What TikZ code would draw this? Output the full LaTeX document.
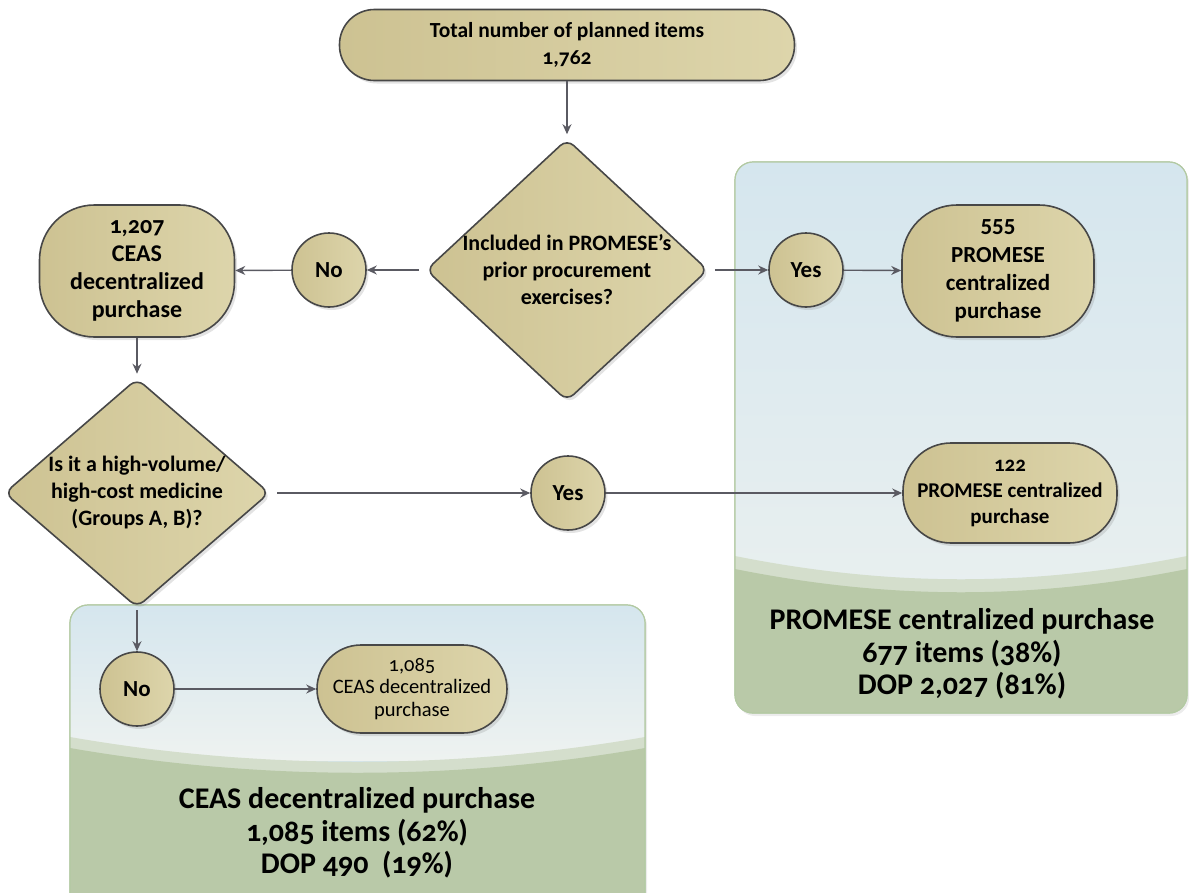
\documentclass[tikz,border=0pt]{standalone}
\usepackage{fontspec}
\setmainfont{Carlito}[Numbers=OldStyle]
\newfontfamily\liningfont{Carlito}[Numbers=Lining]
\usetikzlibrary{arrows.meta,shapes.geometric,shadows}
\definecolor{tanA}{HTML}{CDC292}
\definecolor{tanB}{HTML}{DDD5AB}
\definecolor{edgegray}{HTML}{474747}
\definecolor{arrowgray}{HTML}{5A5A62}
\definecolor{skyA}{HTML}{D5E6EE}
\definecolor{skyB}{HTML}{EEF2F0}
\definecolor{sageA}{HTML}{B9C9A8}
\definecolor{sageB}{HTML}{D4DECC}
\definecolor{paneledge}{HTML}{B3CAA3}

\tikzset{
	tanfill/.style={draw=edgegray, line width=1.6pt, left color=tanA, right color=tanB,
		drop shadow={shadow xshift=2.5pt, shadow yshift=-3pt, opacity=0.22}},
	termbox/.style={tanfill, rectangle, align=center, inner sep=0pt},
	answer/.style={tanfill, circle, minimum size=74pt, inner sep=0pt, font=\bfseries\fontsize{23}{27}\selectfont},
	decision/.style={tanfill, diamond, rounded corners=9pt, inner sep=0pt},
	flow/.style={draw=arrowgray, line width=1.4pt, -{Stealth[length=10pt,width=9pt]}},
	panelline/.style={draw=paneledge, line width=1.2pt, rounded corners=18pt,
		drop shadow={shadow xshift=2pt, shadow yshift=-3pt, opacity=0.15}},
}

\begin{document}
\begin{tikzpicture}[x=1pt, y=-1pt]
			%%%%% START %%%%%
			\clip (0,0) rectangle (1189,892);
			
			% right panel
			\draw[panelline, fill=skyA] (735,162) rectangle (1187,713);
			\begin{scope}
				\clip[rounded corners=18pt] (735,162) rectangle (1187,713);
				\fill[top color=skyA, bottom color=skyB] (735,162) rectangle (1187,713);
				\fill[sageB] (735,556) .. controls (890,587) and (1032,587) .. (1187,556) -- (1187,713) -- (735,713) -- cycle;
				\fill[sageA] (735,569) .. controls (890,600) and (1032,600) .. (1187,569) -- (1187,713) -- (735,713) -- cycle;
			\end{scope}
			\draw[draw=paneledge, line width=1.2pt, rounded corners=18pt] (735,162) rectangle (1187,713);
			
			% bottom panel
			\draw[panelline, fill=skyA] (70,605) rectangle (645,910);
			\begin{scope}
				\clip[rounded corners=18pt] (70,605) rectangle (645,910);
				\fill[top color=skyA, bottom color=skyB] (70,605) rectangle (645,760);
				\fill[sageB] (70,737) .. controls (260,770) and (455,770) .. (645,737) -- (645,910) -- (70,910) -- cycle;
				\fill[sageA] (70,748) .. controls (260,781) and (455,781) .. (645,748) -- (645,910) -- (70,910) -- cycle;
			\end{scope}
			\draw[draw=paneledge, line width=1.2pt, rounded corners=18pt] (70,605) rectangle (645,910);
			
			% nodes
			\node[termbox, minimum width=455pt, minimum height=71pt, rounded corners=35pt,
				font=\bfseries\fontsize{21.5}{27}\selectfont] (total) at (567,45) {Total number of planned items\\1,762};
			
			\node[decision, minimum width=282pt, minimum height=262pt] (prior) at (567,270) {};
			\node[align=center, font=\bfseries\fontsize{22}{27}\selectfont] (priortext) at (prior) {Included in PROMESE’s\\prior procurement\\exercises?};
			
			\node[answer] (no1) at (329,270) {No};
			\node[termbox, minimum width=195pt, minimum height=132pt, rounded corners=55pt,
				font=\bfseries\fontsize{24}{28}\selectfont] (ceas1) at (137,271) {1,207\\CEAS\\decentralized\\purchase};
			
			\node[answer] (yes1) at (806,270) {Yes};
			\node[termbox, minimum width=192pt, minimum height=132pt, rounded corners=55pt,
				font=\bfseries\fontsize{23}{28}\selectfont] (prom1) at (998,271) {\liningfont 555\\PROMESE\\centralized\\purchase};
			
			\node[decision, minimum width=265pt, minimum height=229pt] (volume) at (137,493) {};
			\node[align=center, font=\bfseries\fontsize{22}{27}\selectfont] (volumetext) at (volume) {Is it a high-volume/\\high-cost medicine\\(Groups A, B)?};
			
			\node[answer] (yes2) at (568,493) {Yes};
			\node[termbox, minimum width=214pt, minimum height=100pt, rounded corners=48pt,
				font=\bfseries\fontsize{21}{26}\selectfont] (prom2) at (1010,493) {122\\PROMESE centralized\\purchase};
			
			\node[answer] (no2) at (137,689) {No};
			\node[termbox, minimum width=190pt, minimum height=88pt, rounded corners=44pt,
				font=\fontsize{20.5}{22.5}\selectfont] (ceas2) at (412,689) {1,085\\CEAS decentralized\\purchase};
			
			\node[align=center, font=\bfseries\fontsize{30}{32.5}\selectfont] (promsum) at (962,654) {PROMESE centralized purchase\\677 items (38\%)\\DOP 2,027 (81\%)};
			\node[align=center, font=\bfseries\fontsize{30}{32.5}\selectfont] (ceassum) at (357,833) {CEAS decentralized purchase\\1,085 items (62\%)\\DOP 490~~(19\%)};
			
			% connectors
			\draw[flow, shorten >=4pt] (total) -- (prior.north);
			\draw[flow, shorten <=6pt] (prior) -- (no1);
			\draw[flow] (no1) -- (ceas1);
			\draw[flow, shorten <=6pt] (prior) -- (yes1);
			\draw[flow] (yes1) -- (prom1);
			\draw[flow, shorten >=4pt] (ceas1) -- (volume.north);
			\draw[flow, shorten <=7pt] (volume) -- (yes2);
			\draw[flow] (yes2) -- (prom2);
			\draw[flow, shorten <=2pt] (volume) -- (no2);
			\draw[flow] (no2) -- (ceas2);
			
			%%%%% END %%%%%
\end{tikzpicture}
\end{document}
